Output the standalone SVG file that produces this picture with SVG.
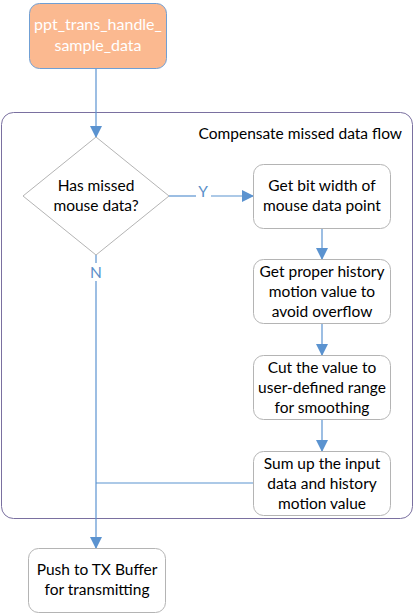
<svg xmlns="http://www.w3.org/2000/svg" width="414" height="614" viewBox="0 0 414 614">
<style>
text{font-family:Lato,"Liberation Sans",sans-serif;font-size:15.5px;text-anchor:middle;fill:#000}
.box{fill:#fff;stroke:#b4b4b4;stroke-width:1}
.ln{fill:none;stroke:#5b93d0;stroke-width:1.2}
.lbl{fill:#5b8fc9}
.w{fill:#fff;font-size:16px}
</style>
<defs>
<marker id="ah" markerWidth="12" markerHeight="12" refX="11" refY="6" orient="auto" markerUnits="userSpaceOnUse">
<path d="M0,0 L12,6 L0,12 Z" fill="#5b93d0"/>
</marker>
</defs>
<rect id="container" x="1.5" y="112.5" width="411" height="406" rx="12" fill="none" stroke="#7a70a0" stroke-width="1"/>
<text x="402" y="139" style="text-anchor:end">Compensate missed data flow</text>
<g id="connectors">
<line class="ln" x1="96" y1="68" x2="96" y2="137" marker-end="url(#ah)"/>
<polyline class="ln" points="169,196 196,196"/>
<polyline class="ln" points="211,196 253,196" marker-end="url(#ah)"/>
<line class="ln" x1="322" y1="228" x2="322" y2="259" marker-end="url(#ah)"/>
<line class="ln" x1="322" y1="324" x2="322" y2="355" marker-end="url(#ah)"/>
<line class="ln" x1="322" y1="419" x2="322" y2="451" marker-end="url(#ah)"/>
<line class="ln" x1="96" y1="255" x2="96" y2="263"/>
<line class="ln" x1="96" y1="281" x2="96" y2="548" marker-end="url(#ah)"/>
<line class="ln" x1="253" y1="483" x2="96" y2="483"/>
<text class="lbl" x="203" y="197">Y</text>
<text class="lbl" x="96" y="278">N</text>
</g>
<g id="start">
<rect x="29.5" y="3.5" width="137" height="65" rx="10" fill="#fbb990" stroke="#6f9fd4" stroke-width="1"/>
<text class="w" x="98" y="30">ppt_trans_handle_</text>
<text class="w" x="98" y="51">sample_data</text>
</g>
<g id="decision">
<polygon points="96,137 169,196 96,255 23,196" fill="#fff" stroke="#b4b4b4" stroke-width="1"/>
<text x="96" y="191">Has missed</text>
<text x="96" y="211">mouse data?</text>
</g>
<g id="bitwidth">
<rect class="box" x="253.5" y="164.5" width="137" height="64" rx="10"/>
<text x="322" y="191">Get bit width of</text>
<text x="322" y="211">mouse data point</text>
</g>
<g id="history">
<rect class="box" x="253.5" y="259.5" width="137" height="64" rx="10"/>
<text x="322" y="277">Get proper history</text>
<text x="322" y="297">motion value to</text>
<text x="322" y="317">avoid overflow</text>
</g>
<g id="cut">
<rect class="box" x="253.5" y="355.5" width="137" height="64" rx="10"/>
<text x="322" y="373">Cut the value to</text>
<text x="322" y="393">user-defined range</text>
<text x="322" y="413">for smoothing</text>
</g>
<g id="sum">
<rect class="box" x="253.5" y="451.5" width="137" height="64" rx="10"/>
<text x="322" y="469">Sum up the input</text>
<text x="322" y="489">data and history</text>
<text x="322" y="509">motion value</text>
</g>
<g id="push">
<rect class="box" x="28.5" y="548.5" width="137" height="64" rx="10"/>
<text x="97" y="575">Push to TX Buffer</text>
<text x="97" y="595">for transmitting</text>
</g>
</svg>
